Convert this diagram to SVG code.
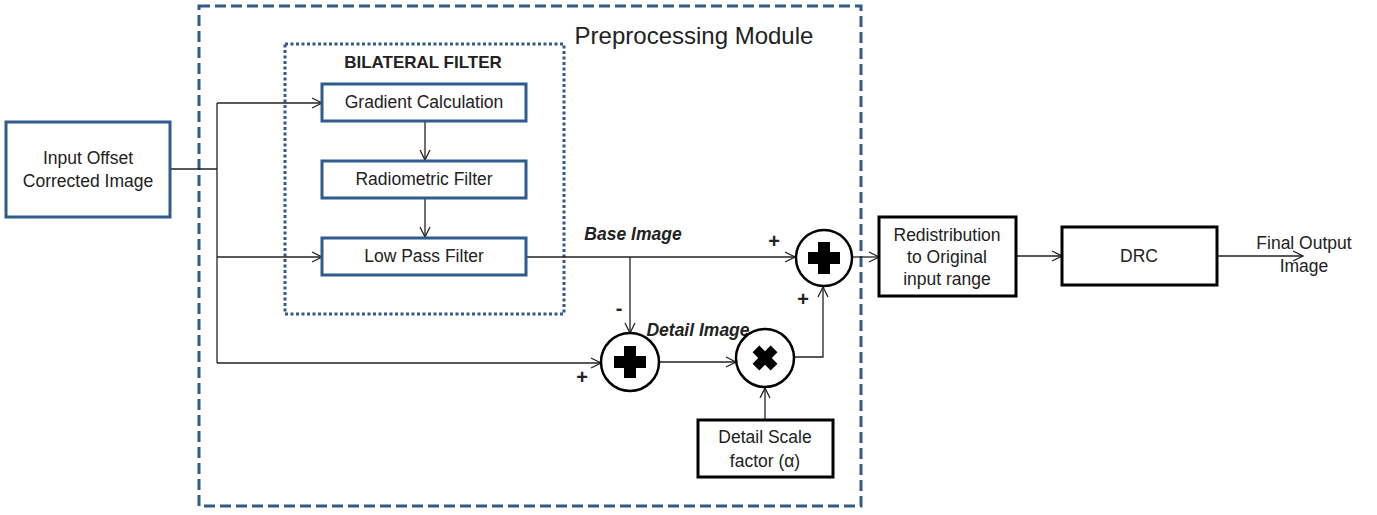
<svg xmlns="http://www.w3.org/2000/svg" width="1377" height="515" viewBox="0 0 1377 515">
<defs>
<style>
.t{font-family:"Liberation Sans",Arial,sans-serif;fill:#222;text-anchor:middle;font-size:17.5px}
.bl{fill:#fff;stroke:#2f5b8d;stroke-width:3}
.bk{fill:#fff;stroke:#000;stroke-width:3}
.ln{fill:none;stroke:#222;stroke-width:1.3}
.sum{fill:#fff;stroke:#000;stroke-width:2.5}
.pm{font-weight:bold;font-size:20px}
</style>
<marker id="a" viewBox="0 0 12 12" refX="11" refY="6" markerWidth="12" markerHeight="12" markerUnits="userSpaceOnUse" orient="auto">
<polyline points="1,1 11,6 1,11" fill="none" stroke="#222" stroke-width="1.3"/>
</marker>
<path id="plus" d="M-6,-16 H6 V-6 H16 V6 H6 V16 H-6 V6 H-16 V-6 H-6 Z" fill="#000"/>
</defs>
<rect width="1377" height="515" fill="#fff"/>
<g id="preprocessing-module">
<rect x="199" y="6" width="662" height="500" fill="none" stroke="#2f5b8d" stroke-width="3" stroke-dasharray="11,5"/>
<text class="t" x="694" y="44" style="font-size:24px">Preprocessing Module</text>
</g>
<g id="bilateral-filter">
<rect x="285" y="44" width="279" height="270" fill="none" stroke="#2f5b8d" stroke-width="3" stroke-dasharray="3,2.5"/>
<text class="t" x="423" y="68" style="font-size:17px;font-weight:bold">BILATERAL FILTER</text>
</g>
<g id="connectors">
<polyline class="ln" points="170,169 217,169"/>
<polyline class="ln" points="217,103 217,363"/>
<polyline class="ln" points="217,103 322,103" marker-end="url(#a)"/>
<polyline class="ln" points="217,257 322,257" marker-end="url(#a)"/>
<polyline class="ln" points="217,363 601,363" marker-end="url(#a)"/>
<polyline class="ln" points="425,120 425,160" marker-end="url(#a)"/>
<polyline class="ln" points="425,198 425,237" marker-end="url(#a)"/>
<polyline class="ln" points="526,257 795,257" marker-end="url(#a)"/>
<polyline class="ln" points="630,257 630,333" marker-end="url(#a)"/>
<polyline class="ln" points="659,362 736,362" marker-end="url(#a)"/>
<polyline class="ln" points="794,357 823,357 823,287" marker-end="url(#a)"/>
<polyline class="ln" points="765,420 765,388" marker-end="url(#a)"/>
<polyline class="ln" points="852,257 879,257" marker-end="url(#a)"/>
<polyline class="ln" points="1016,256 1062,256" marker-end="url(#a)"/>
<polyline class="ln" points="1217,256 1303,256" marker-end="url(#a)"/>
</g>
<g id="input">
<rect class="bl" x="6" y="122" width="164" height="95"/>
<text class="t" x="88" y="164">Input Offset</text>
<text class="t" x="88" y="187">Corrected Image</text>
</g>
<g id="gradient">
<rect class="bl" x="322" y="84" width="204" height="37"/>
<text class="t" x="424" y="108">Gradient Calculation</text>
</g>
<g id="radiometric">
<rect class="bl" x="322" y="161" width="204" height="37"/>
<text class="t" x="424" y="185">Radiometric Filter</text>
</g>
<g id="lowpass">
<rect class="bl" x="322" y="238" width="204" height="37"/>
<text class="t" x="424" y="262">Low Pass Filter</text>
</g>
<g id="labels">
<text class="t" x="633" y="240" font-weight="bold" font-style="italic">Base Image</text>
<text class="t" x="698" y="336" font-weight="bold" font-style="italic">Detail Image</text>
<text class="t pm" x="774" y="248">+</text>
<text class="t pm" x="803" y="306">+</text>
<text class="t pm" x="619" y="315">-</text>
<text class="t pm" x="582" y="384">+</text>
</g>
<g id="sum-output">
<circle class="sum" cx="824" cy="258" r="28"/>
<use href="#plus" x="824" y="258"/>
</g>
<g id="sum-detail">
<circle class="sum" cx="630" cy="362" r="29"/>
<use href="#plus" x="630" y="362"/>
</g>
<g id="multiply">
<circle class="sum" cx="765" cy="358" r="29"/>
<use href="#plus" transform="translate(765,358) rotate(45) scale(0.8)"/>
</g>
<g id="scale-factor">
<rect class="bk" x="698" y="420" width="135" height="57"/>
<text class="t" x="765" y="443">Detail Scale</text>
<text class="t" x="765" y="467">factor (α)</text>
</g>
<g id="redistribution">
<rect class="bk" x="879" y="217" width="137" height="79"/>
<text class="t" x="947" y="241">Redistribution</text>
<text class="t" x="947" y="263">to Original</text>
<text class="t" x="947" y="285">input range</text>
</g>
<g id="drc">
<rect class="bk" x="1062" y="227" width="155" height="58"/>
<text class="t" x="1139" y="262">DRC</text>
</g>
<g id="final-output">
<text class="t" x="1304" y="249">Final Output</text>
<text class="t" x="1304" y="272">Image</text>
</g>
</svg>
